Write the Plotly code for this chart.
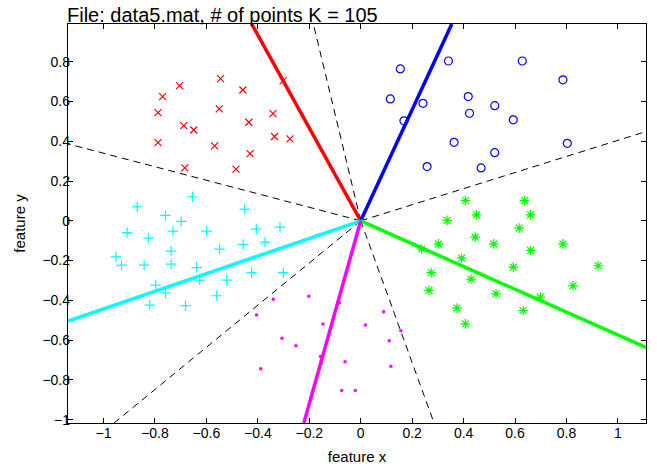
import plotly.graph_objects as go

# ---- class samples (feature x, feature y) ----
red_x = [-0.770, -0.704, -0.545, -0.458, -0.302, -0.788, -0.550, -0.341, -0.688,
         -0.649, -0.435, -0.788, -0.568, -0.335, -0.275, -0.430, -0.684, -0.485]
red_y = [0.625, 0.680, 0.715, 0.658, 0.704, 0.544, 0.563, 0.539, 0.479,
         0.457, 0.496, 0.393, 0.377, 0.424, 0.412, 0.338, 0.266, 0.260]

blue_x = [0.154, 0.341, 0.628, 0.786, 0.115, 0.242, 0.418, 0.521, 0.423,
          0.168, 0.593, 0.363, 0.803, 0.521, 0.258, 0.468]
blue_y = [0.764, 0.804, 0.804, 0.709, 0.613, 0.591, 0.625, 0.579, 0.541,
          0.503, 0.508, 0.395, 0.390, 0.343, 0.273, 0.266]

green_x = [0.407, 0.637, 0.450, 0.660, 0.336, 0.616, 0.445, 0.302, 0.517, 0.786,
           0.236, 0.660, 0.392, 0.593, 0.923, 0.274, 0.429, 0.825, 0.265, 0.526,
           0.698, 0.374, 0.632, 0.407]
green_y = [0.102, 0.102, 0.030, 0.030, 0.002, -0.037, -0.082, -0.116, -0.116, -0.116,
           -0.142, -0.149, -0.188, -0.233, -0.226, -0.261, -0.293, -0.327, -0.350, -0.367,
           -0.384, -0.439, -0.451, -0.518]

cyan_x = [-0.654, -0.869, -0.759, -0.698, -0.451, -0.908, -0.730, -0.599, -0.406, -0.314,
          -0.825, -0.737, -0.549, -0.457, -0.372, -0.951, -0.930, -0.842, -0.737, -0.638,
          -0.424, -0.301, -0.626, -0.521, -0.797, -0.759, -0.560, -0.820, -0.681]
cyan_y = [0.121, 0.070, 0.027, -0.003, 0.059, -0.059, -0.052, -0.052, -0.042, -0.032,
          -0.087, -0.152, -0.142, -0.119, -0.107, -0.181, -0.223, -0.223, -0.218, -0.235,
          -0.261, -0.261, -0.298, -0.298, -0.323, -0.362, -0.377, -0.424, -0.427]

magenta_x = [-0.340, -0.202, -0.083, -0.405, -0.147, 0.018, -0.306, -0.252, -0.156,
             -0.154, -0.061, -0.389, -0.074, -0.021, 0.089, 0.156, 0.111, 0.117]
magenta_y = [-0.395, -0.379, -0.412, -0.474, -0.519, -0.524, -0.591, -0.628, -0.682,
             -0.717, -0.709, -0.744, -0.854, -0.854, -0.457, -0.553, -0.603, -0.732]

# ---- prototype directions (solid rays) and class boundaries (dashed rays) ----
proto_colors = ["#ff0000", "#0000ff", "#00ff00", "#00ffff", "#ff00ff"]
proto_end_x = [-0.424, 0.354, 1.109, -1.138, -0.221]
proto_end_y = [0.990, 0.990, -0.637, -0.504, -1.017]

bound_end_x = [-1.138, -0.184, 1.109, 0.285, -0.959]
bound_end_y = [0.387, 0.990, 0.449, -1.017, -1.017]

x_range = [-1.138, 1.109]
y_range = [-1.017, 0.990]
x_ticks = [-1, -0.8, -0.6, -0.4, -0.2, 0, 0.2, 0.4, 0.6, 0.8, 1]
y_ticks = [-1, -0.8, -0.6, -0.4, -0.2, 0, 0.2, 0.4, 0.6, 0.8]

FONT = "Liberation Sans, Arial, sans-serif"


def tick_text(v):
    s = f"{v:g}"
    return s.replace("-", "\u2212")


fig = go.Figure()

# dashed decision boundaries
for ex, ey in zip(bound_end_x, bound_end_y):
    fig.add_trace(go.Scatter(x=[0, ex], y=[0, ey], mode="lines",
                             line=dict(color="black", width=1, dash="7px,5px"),
                             hoverinfo="skip", showlegend=False))

# scattered samples
samples = [
    (red_x, red_y, "#ff0000", "x-thin-open", 7, 1.2),
    (blue_x, blue_y, "#0000ff", "circle-open", 8, 1.2),
    (green_x, green_y, "#00ff00", "asterisk-open", 8, 1.2),
    (cyan_x, cyan_y, "#00ffff", "cross-thin-open", 7.5, 1.2),
    (magenta_x, magenta_y, "#ff00ff", "circle", 3.5, 0),
]
for xs, ys, col, sym, sz, lw in samples:
    fig.add_trace(go.Scatter(x=xs, y=ys, mode="markers",
                             marker=dict(symbol=sym, size=sz, color=col,
                                         line=dict(color=col, width=lw)),
                             showlegend=False))

# prototype rays
for col, ex, ey in zip(proto_colors, proto_end_x, proto_end_y):
    fig.add_trace(go.Scatter(x=[0, ex], y=[0, ey], mode="lines",
                             line=dict(color=col, width=3.5),
                             hoverinfo="skip", showlegend=False))

axis_common = dict(showgrid=False, zeroline=False, showline=True, linecolor="black",
                   linewidth=1.3, mirror="allticks", ticks="inside", ticklen=5,
                   tickcolor="black", tickwidth=1, automargin=False,
                   tickfont=dict(family=FONT, size=14, color="black"))

fig.update_layout(
    width=657, height=468,
    margin=dict(l=68, r=11, t=24, b=45),
    paper_bgcolor="white", plot_bgcolor="white",
    font=dict(family=FONT, color="black"),
    xaxis=dict(range=x_range, tickvals=x_ticks, ticktext=[tick_text(v) for v in x_ticks],
               ticklabelstandoff=-3,
               title=dict(text="feature x", font=dict(size=15), standoff=11), **axis_common),
    yaxis=dict(range=y_range, tickvals=y_ticks, ticktext=[tick_text(v) for v in y_ticks],
               ticklabelstandoff=-6,
               title=dict(text="feature y", font=dict(size=15), standoff=13), **axis_common),
    annotations=[dict(text="File: data5.mat, # of points K = 105", xref="paper", yref="paper",
                      x=0, y=1, xanchor="left", yanchor="bottom", showarrow=False,
                      xshift=-3, yshift=-4,
                      font=dict(size=20, family=FONT, color="black"))],
)

fig.write_html("out.html")
